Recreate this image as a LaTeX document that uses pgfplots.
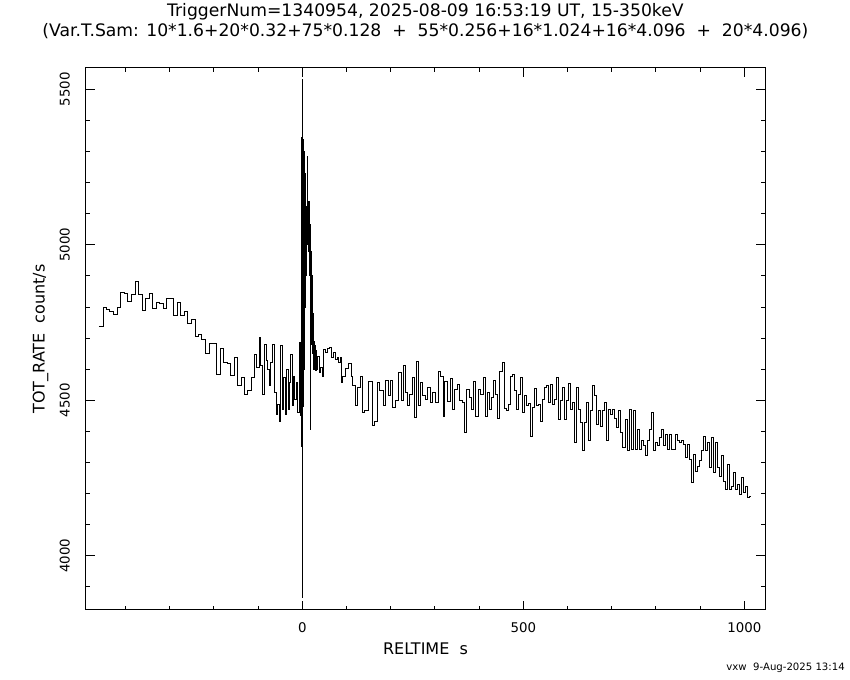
\documentclass[border=0pt]{standalone}
\usepackage{fontspec}
\setmainfont{DejaVu Sans}
\usepackage{pgfplots}
\pgfplotsset{compat=1.18}
\begin{document}
\begin{tikzpicture}
\path[use as bounding box] (-64.5pt,-52.5pt) rectangle (573pt,457.5pt);
\begin{axis}[at={(0pt,0pt)}, anchor=south west, scale only axis,
 width=509.25pt, height=406.5pt,
 xmin=-489.4, xmax=1046.8, ymin=3825.3, ymax=5569,
 xtick={0,500,1000}, xticklabels={0,500,1000},
 minor xtick={-400,-300,-200,-100,100,200,300,400,600,700,800,900},
 ytick={4000,4500,5000,5500}, yticklabels={4000,4500,5000,5500},
 minor ytick={3900,4100,4200,4300,4400,4600,4700,4800,4900,5100,5200,5300,5400},
 tick align=inside, major tick length=6.5pt, minor tick length=3pt,
 every tick/.style={black, line width=0.75pt},
 axis line style={line width=0.75pt},
 tick label style={font=\fontsize{10}{12}\selectfont},
 xticklabel style={anchor=north, inner sep=0pt}, xticklabel shift=9pt,
 yticklabel style={rotate=90, anchor=south, inner sep=0pt}, yticklabel shift=12pt,
 clip=true]
\addplot[const plot, black, line width=0.75pt, mark=none] table {
x y
-460.3 4738
-450.5 4799
-442.9 4793
-435.4 4786
-427.8 4777
-418.7 4799
-411.2 4847
-402.8 4843
-396.0 4819
-386.2 4839
-377.9 4883
-369.6 4839
-362.0 4789
-354.5 4828
-346.2 4844
-338.6 4796
-329.5 4815
-322.0 4810
-314.4 4796
-306.8 4826
-299.3 4828
-291.7 4773
-283.4 4816
-276.6 4773
-266.8 4786
-259.2 4747
-251.7 4759
-242.6 4705
-235.0 4712
-227.5 4697
-219.9 4651
-210.8 4684
-194.2 4583
-185.9 4665
-178.3 4622
-170.0 4618
-161.7 4580
-154.1 4638
-145.8 4547
-138.3 4573
-130.0 4519
-123.1 4532
-114.8 4573
-108.8 4648
-102.8 4605
-96.7 4702
-93.7 4611
-89.2 4519
-86.1 4681
-81.6 4627
-78.6 4600
-74.1 4546
-71.0 4621
-66.5 4681
-63.5 4525
-58.9 4455
-55.9 4487
-51.4 4433
-48.3 4675
-45.3 4471
-42.3 4573
-38.5 4455
-34.7 4600
-31.7 4471
-28.7 4557
-25.7 4648
-22.6 4482
-19.6 4578
-16.6 4503
-13.6 4557
-10.5 4460
-7.5 4686
-4.5 4450
-3.0 4600
-2.5 4350
-2.0 5345
-1.5 4400
-1.0 5300
-0.5 4340
0.0 5533
0.3 3864
0.5 5345
0.8 4080
1.0 5345
1.5 4500
2.0 5340
2.5 4480
3.0 5330
3.5 4600
4.0 5300
4.5 4650
5.0 5250
5.5 4700
6.0 5229
6.5 4800
7.0 5150
7.5 4850
8.0 5100
8.5 4900
9.0 5122
9.5 4950
10.0 5080
10.5 5000
11.0 5120
11.5 5000
12.0 5283
12.5 5000
13.0 5100
13.5 5000
14.0 5140
14.5 4980
15.0 5138
15.5 5000
16.0 5060
16.5 4900
17.0 5020
17.5 4750
18.0 4406
18.5 4800
19.0 5066
19.5 4750
20.0 4980
20.5 4700
21.0 4950
21.5 4680
22.0 4900
22.5 4660
23.0 4850
23.5 4650
24.0 4780
24.5 4640
25.0 4700
26 4600
27 4690
28 4610
29 4675
30 4595
31 4660
32 4600
33.3 4640
38 4590
41 4605
45 4578
48 4664
52 4654
56 4667
61 4670
66 4638
71 4654
75 4632
79 4638
82 4621
86.2 4637
88 4557
90.0 4578
97.5 4602
105.1 4618
110.4 4578
114.2 4546
120.2 4484
125.5 4541
131.6 4578
136.9 4462
141.4 4466
150.5 4560
158.0 4419
163.3 4433
170.9 4557
175.4 4530
183.0 4482
188.3 4562
195.8 4514
199.6 4562
203.4 4476
211.0 4498
218.5 4589
223.8 4498
228.3 4613
233.6 4525
237.4 4482
242.7 4519
248.7 4573
254.0 4444
258.6 4625
263.9 4482
267.6 4557
272.9 4514
279.0 4503
284.3 4541
290.3 4493
295.6 4525
301.7 4493
307.0 4591
313.0 4578
318.3 4447
322.8 4560
328.1 4495
334.2 4570
339.5 4471
344.8 4535
350.8 4552
356.1 4498
362.1 4493
367.4 4396
372.0 4535
377.3 4509
382.6 4471
387.1 4560
392.4 4447
397.7 4535
403.6 4519
409.6 4573
414.2 4449
418.7 4525
423.3 4471
427.8 4509
432.3 4562
436.9 4519
441.4 4441
445.9 4591
452.0 4622
456.5 4473
461.1 4466
465.6 4487
470.1 4578
474.7 4584
479.2 4530
483.7 4471
488.3 4519
492.8 4573
497.3 4460
501.9 4514
506.4 4482
511.0 4490
515.5 4385
520.0 4476
524.6 4538
529.1 4482
533.6 4487
538.2 4433
542.7 4503
547.2 4541
551.8 4548
556.3 4493
560.8 4552
565.4 4487
569.9 4503
574.5 4573
579.0 4439
583.5 4498
588.1 4541
592.6 4439
597.1 4498
601.7 4555
606.2 4471
610.7 4493
615.3 4363
619.8 4541
624.4 4471
628.9 4428
633.4 4337
638.0 4428
642.5 4493
647.0 4369
651.6 4466
656.1 4546
660.6 4514
665.2 4423
669.7 4466
674.2 4417
678.8 4466
683.3 4493
687.9 4369
692.4 4471
696.9 4455
701.5 4471
706.0 4441
710.5 4412
715.1 4466
721.0 4396
725.5 4348
730.1 4439
734.6 4337
739.1 4471
743.7 4342
748.2 4466
752.8 4342
757.3 4407
761.8 4342
766.4 4369
770.9 4353
775.4 4321
780.0 4369
784.5 4407
789.0 4460
793.6 4337
798.1 4364
802.6 4353
807.2 4380
811.7 4407
816.3 4353
820.8 4391
825.3 4342
829.9 4391
834.4 4342
843.5 4391
848.0 4369
852.5 4364
857.1 4369
861.6 4358
866.2 4315
870.7 4358
875.2 4310
879.8 4235
884.3 4326
888.8 4272
893.4 4288
897.9 4305
902.4 4337
907.0 4385
911.5 4337
916.0 4364
920.6 4283
925.1 4380
929.7 4267
934.2 4364
938.7 4283
943.3 4256
947.8 4321
952.3 4240
956.9 4213
961.4 4294
965.9 4213
970.5 4224
975.0 4267
979.6 4213
984.1 4229
988.6 4197
993.2 4251
997.7 4202
1002.2 4224
1006.8 4186
1011.3 4190
1014.0 4190
};
\end{axis}
\node[font=\fontsize{12.9}{15}\selectfont, inner sep=0pt] at (254.6pt,448.5pt) {TriggerNum=1340954, 2025-08-09 16:53:19 UT, 15-350keV};
\node[font=\fontsize{12.9}{15}\selectfont, inner sep=0pt] at (254.6pt,434.25pt) {(Var.T.Sam: 10*1.6+20*0.32+75*0.128~~+~~55*0.256+16*1.024+16*4.096~~+~~20*4.096)};
\node[rotate=90, anchor=base, inner sep=0pt, font=\fontsize{12}{14}\selectfont] at (-31pt,203.25pt) {TOT\_RATE~~count/s};
\node[anchor=north, inner sep=0pt, font=\fontsize{12}{14}\selectfont] at (254.6pt,-24.75pt) {RELTIME~~s};
\node[anchor=east, inner sep=0pt, font=\fontsize{7.6}{9}\selectfont] at (569.25pt,-43.5pt) {vxw~~9-Aug-2025 13:14};
\end{tikzpicture}
\end{document}
